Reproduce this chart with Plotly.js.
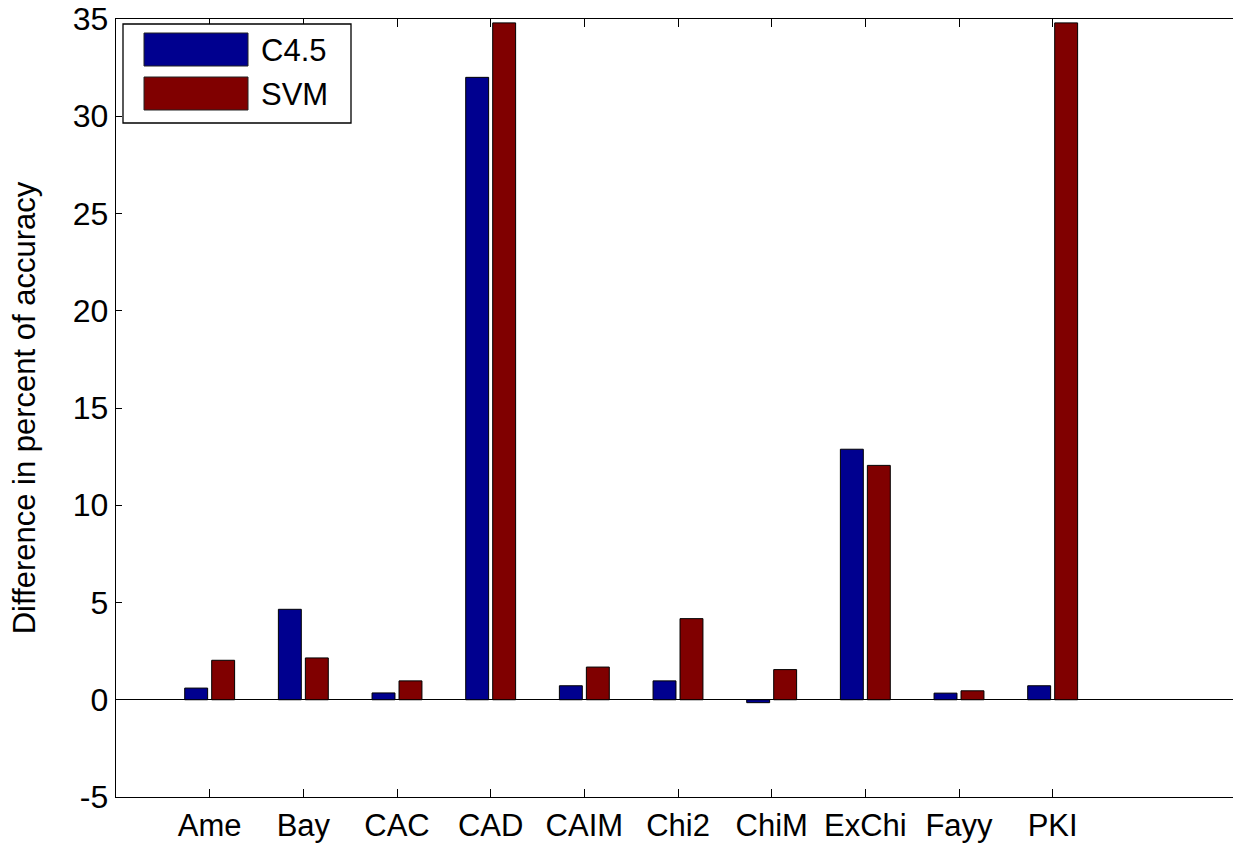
<!DOCTYPE html>
<html>
<head>
<meta charset="utf-8">
<script src="https://cdn.plot.ly/plotly-3.0.1.min.js"></script>
<style>
html, body { margin: 0; padding: 0; overflow: hidden; background: #fff; }
#chart { width: 1245px; height: 845px; }
</style>
</head>
<body>
<div id="chart"></div>
<script>
const categories = ['Ame', 'Bay', 'CAC', 'CAD', 'CAIM', 'Chi2', 'ChiM', 'ExChi', 'Fayy', 'PKI'];
const seriesNames = ['C4.5', 'SVM'];
const c45Values = [0.6, 4.65, 0.35, 32.0, 0.72, 0.97, -0.15, 12.88, 0.34, 0.72];
const svmValues = [2.03, 2.15, 0.97, 34.8, 1.68, 4.17, 1.55, 12.05, 0.46, 34.8];
const yTickVals = [-5, 0, 5, 10, 15, 20, 25, 30, 35];
const yTickText = ['-5', '0', '5', '10', '15', '20', '25', '30', '35'];
const yTitle = 'Difference in percent of accuracy';

const colors = ['#00008F', '#800000'];
const FONT = 'Liberation Sans, Arial, Helvetica, sans-serif';

const traces = [
  { type: 'bar', x: categories, y: c45Values, name: seriesNames[0],
    marker: { color: colors[0], line: { color: '#000', width: 1 } }, showlegend: false },
  { type: 'bar', x: categories, y: svmValues, name: seriesNames[1],
    marker: { color: colors[1], line: { color: '#000', width: 1 } }, showlegend: false }
];

// Plot area in pixels: x 116..1240, y 19..797
const L = 116, R = 1240, T = 19, B = 797;
const px = v => (v - L) / (R - L);
const py = v => (B - v) / (B - T);

const shapes = [
  { type: 'rect', xref: 'paper', yref: 'paper', x0: px(123), x1: px(351), y0: py(123), y1: py(24),
    line: { color: '#000', width: 1.3 }, fillcolor: '#fff', layer: 'above' },
  { type: 'rect', xref: 'paper', yref: 'paper', x0: px(144), x1: px(248), y0: py(66), y1: py(33),
    line: { color: '#222', width: 1 }, fillcolor: colors[0], layer: 'above' },
  { type: 'rect', xref: 'paper', yref: 'paper', x0: px(144), x1: px(248), y0: py(110), y1: py(77),
    line: { color: '#222', width: 1 }, fillcolor: colors[1], layer: 'above' }
];

const annotations = [
  { xref: 'paper', yref: 'paper', x: px(259), y: py(50), xanchor: 'left', yanchor: 'middle',
    text: seriesNames[0], showarrow: false, font: { family: FONT, size: 31, color: '#000' } },
  { xref: 'paper', yref: 'paper', x: px(259), y: py(94), xanchor: 'left', yanchor: 'middle',
    text: seriesNames[1], showarrow: false, font: { family: FONT, size: 31, color: '#000' } }
];

const layout = {
  width: 1245, height: 845,
  margin: { l: L, r: 1245 - R, t: T, b: 845 - B, pad: 0 },
  paper_bgcolor: '#fff', plot_bgcolor: '#fff',
  font: { family: FONT, size: 30, color: '#000' },
  barmode: 'group', bargap: 0.424, bargroupgap: 0.15,
  showlegend: false,
  xaxis: {
    type: 'category', range: [-1, 11],
    showline: true, linecolor: '#000', linewidth: 1.3, mirror: 'ticks',
    ticks: 'inside', ticklen: 8, tickcolor: '#000', tickwidth: 1,
    showgrid: false, zeroline: false,
    tickfont: { family: FONT, size: 31, color: '#000' },
    fixedrange: true
  },
  yaxis: {
    range: [-5, 35], tickvals: yTickVals, ticktext: yTickText,
    showline: true, linecolor: '#000', linewidth: 1.3, mirror: 'ticks',
    ticks: 'inside', ticklen: 6, tickcolor: '#000', tickwidth: 1,
    showgrid: false, zeroline: true, zerolinecolor: '#000', zerolinewidth: 1.3,
    tickfont: { family: FONT, size: 32, color: '#000' },
    title: { text: yTitle, font: { family: FONT, size: 31, color: '#000' }, standoff: 28 },
    automargin: false, fixedrange: true
  },
  shapes: shapes,
  annotations: annotations
};

Plotly.newPlot('chart', traces, layout, { displayModeBar: false, staticPlot: true });
</script>
</body>
</html>
